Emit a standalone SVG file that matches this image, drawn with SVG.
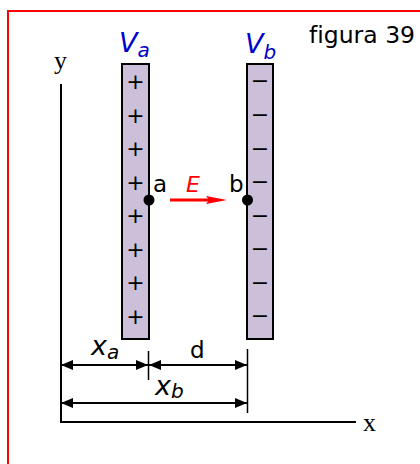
<svg xmlns="http://www.w3.org/2000/svg" width="420" height="464" viewBox="0 0 420 464">
<style>
.frame{fill:none;stroke:#ff0000;stroke-width:2}
.axis{fill:none;stroke:#000;stroke-width:2}
.plate{fill:#cbbfd9;stroke:#000;stroke-width:2}
.sans{font-family:"DejaVu Sans","Verdana",sans-serif;fill:#000;font-variant-ligatures:none}
.serif{font-family:"Liberation Serif","Times New Roman",serif;fill:#000}
.sign{font-family:"DejaVu Sans",sans-serif;font-size:22px;text-anchor:middle;fill:#000}
.it{font-family:"DejaVu Sans",sans-serif;font-style:italic}
.blue{fill:#0000cc}
.dim{fill:none;stroke:#000;stroke-width:2}
.tick{fill:none;stroke:#000;stroke-width:1.5}
</style>
<defs>
<marker id="ah" viewBox="0 0 12 10" refX="12" refY="5" markerWidth="12" markerHeight="10" markerUnits="userSpaceOnUse" orient="auto-start-reverse">
<path d="M0,0 L12,5 L0,10 Z" fill="#000"/>
</marker>
</defs>
<rect class="frame" x="8" y="11" width="430" height="470"/>
<g id="axes">
<line class="axis" x1="61" y1="84" x2="61" y2="423"/>
<line class="axis" x1="60" y1="422" x2="356" y2="422"/>
<text class="serif" x="60.5" y="69" font-size="26" text-anchor="middle">y</text>
<text class="serif" x="363" y="431" font-size="26">x</text>
</g>
<text id="title" class="sans" x="309" y="43" font-size="23.5">figura 39</text>
<g id="plateA">
<rect class="plate" x="122" y="64" width="27" height="275"/>
<text class="sign" x="135.5" y="88.5">+</text>
<text class="sign" x="135.5" y="122.5">+</text>
<text class="sign" x="135.5" y="156">+</text>
<text class="sign" x="135.5" y="189.5">+</text>
<text class="sign" x="135.5" y="223">+</text>
<text class="sign" x="135.5" y="256.5">+</text>
<text class="sign" x="135.5" y="290">+</text>
<text class="sign" x="135.5" y="323.5">+</text>
<text class="it blue" x="119" y="52" font-size="27">V<tspan font-size="20" dy="5">a</tspan></text>
</g>
<g id="plateB">
<rect class="plate" x="247" y="64" width="26" height="275"/>
<text class="sign" x="260" y="87.5">−</text>
<text class="sign" x="260" y="121.5">−</text>
<text class="sign" x="260" y="155.5">−</text>
<text class="sign" x="260" y="188.5">−</text>
<text class="sign" x="260" y="222.5">−</text>
<text class="sign" x="260" y="255.5">−</text>
<text class="sign" x="260" y="289.5">−</text>
<text class="sign" x="260" y="322.5">−</text>
<text class="it blue" x="245" y="53" font-size="27">V<tspan font-size="20" dy="6">b</tspan></text>
</g>
<g id="pointA">
<circle cx="149" cy="200" r="5.5" fill="#000"/>
<text class="sans" x="153" y="192" font-size="23">a</text>
</g>
<g id="pointB">
<circle cx="247.5" cy="200" r="5.5" fill="#000"/>
<text class="sans" x="229" y="192" font-size="23">b</text>
</g>
<g id="field">
<line x1="170" y1="200" x2="212" y2="200" stroke="#ff0000" stroke-width="3"/>
<path d="M227,200 L206,196 L209,200 L206,204 Z" fill="#ff0000"/>
<text class="it" x="186" y="191.5" font-size="22" fill="#ff0000">E</text>
</g>
<g id="connectors">
<line class="dim" x1="61" y1="365" x2="148" y2="365" marker-start="url(#ah)" marker-end="url(#ah)"/>
<line class="dim" x1="149" y1="365" x2="247" y2="365" marker-start="url(#ah)" marker-end="url(#ah)"/>
<line class="dim" x1="61" y1="403" x2="247" y2="403" marker-start="url(#ah)" marker-end="url(#ah)"/>
<line class="tick" x1="148.5" y1="351" x2="148.5" y2="380"/>
<line class="tick" x1="247.5" y1="349" x2="247.5" y2="413"/>
</g>
<g id="labels">
<text class="it" x="91" y="355" font-size="27">x<tspan font-size="20" dy="4">a</tspan></text>
<text class="sans" x="190" y="358" font-size="23">d</text>
<text class="it" x="155" y="395" font-size="27">x<tspan font-size="20" dy="3">b</tspan></text>
</g>
</svg>
